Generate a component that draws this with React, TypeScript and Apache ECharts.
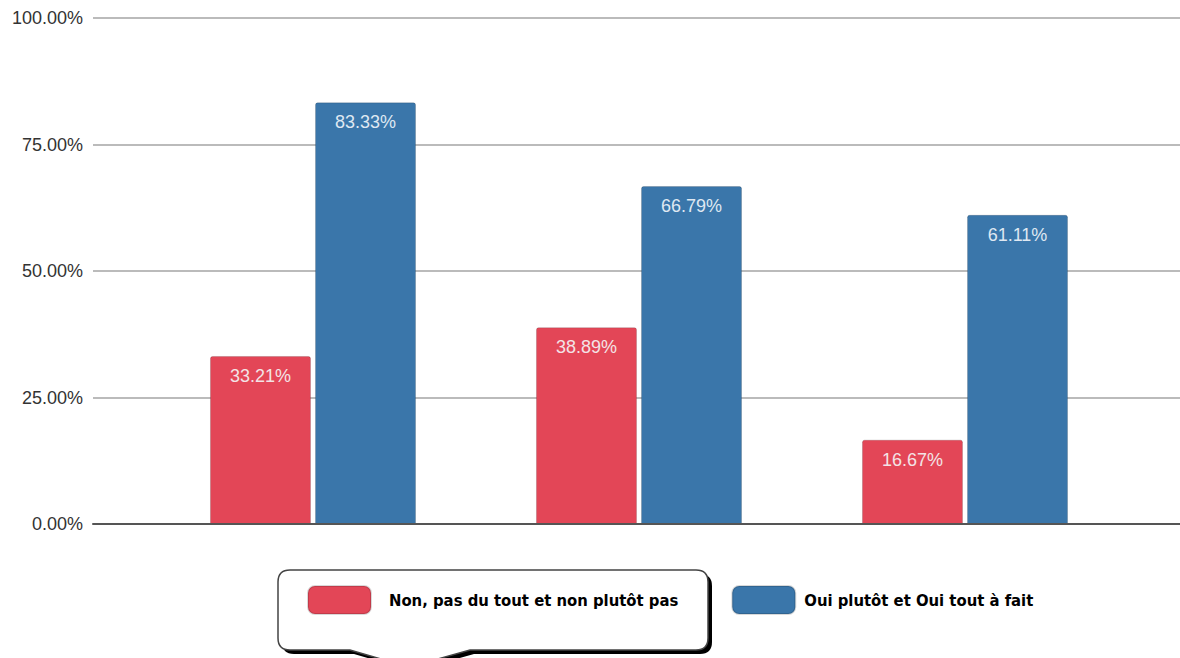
import React, { useEffect, useRef } from "react";
import * as echarts from "echarts";

const categories = ["Groupe 1", "Groupe 2", "Groupe 3"];
const seriesNames = ["Non, pas du tout et non plutôt pas", "Oui plutôt et Oui tout à fait"];
const nonValues = [0.3321, 0.3889, 0.1667];
const ouiValues = [0.8333, 0.6679, 0.6111];
const seriesColors = ["#e34657", "#3a76aa"];

const bubblePath =
  "M290 570 L696 570 Q708 570 708 582 L708 638 Q708 650 696 650 L470 650 L420 664 L398 664 L350 650 L290 650 Q278 650 278 638 L278 582 Q278 570 290 570 Z";

let registered = false;
function ensureShape() {
  if (registered) return;
  echarts.graphic.registerShape("bubble", echarts.graphic.extendPath(bubblePath, {}) as any);
  registered = true;
}

export default function App() {
  const ref = useRef<HTMLDivElement>(null);
  useEffect(() => {
    if (!ref.current) return;
    ensureShape();
    const chart = echarts.init(ref.current, undefined, { renderer: "svg" });
    const pct = (v: number) => (v * 100).toFixed(2) + "%";
    const labelFont = "'Liberation Sans', Arial, sans-serif";
    chart.setOption({
      animation: false,
      backgroundColor: "#ffffff",
      grid: [
        { left: 93, right: 0, top: 18, bottom: 134 },
        { left: 150, right: 52, top: 18, bottom: 134 },
      ],
      xAxis: [
        {
          gridIndex: 0,
          type: "category",
          data: [""],
          axisLine: { show: true, lineStyle: { color: "#555555", width: 2 } },
          axisTick: { show: false },
          axisLabel: { show: false },
          z: 5,
        },
        {
          gridIndex: 1,
          type: "category",
          data: categories,
          axisLine: { show: false },
          axisTick: { show: false },
          axisLabel: { show: false },
        },
      ],
      yAxis: [
        {
          gridIndex: 0,
          type: "value",
          min: 0,
          max: 1,
          interval: 0.25,
          axisLine: { show: false },
          axisTick: { show: false },
          axisLabel: {
            formatter: (v: number) => pct(v),
            color: "#333333",
            fontSize: 18,
            fontFamily: labelFont,
            margin: 10,
          },
          splitLine: { show: true, lineStyle: { color: "#bbbbbb", width: 2 } },
        },
        {
          gridIndex: 1,
          type: "value",
          min: 0,
          max: 1,
          interval: 0.25,
          show: false,
          splitLine: { show: false },
        },
      ],
      legend: {
        left: 307,
        top: 585,
        padding: 0,
        itemWidth: 63,
        itemHeight: 28,
        itemGap: 53,
        icon: "roundRect",
        data: [
          { name: seriesNames[0], textStyle: { padding: [0, 0, 0, 13] } },
          { name: seriesNames[1], textStyle: { padding: [0, 0, 0, 4] } },
        ],
        textStyle: {
          fontFamily: "'DejaVu Sans Condensed', 'DejaVu Sans', sans-serif",
          fontWeight: "bold",
          fontSize: 16.5,
          color: "#000000",
        },
        z: 10,
      },
      graphic: [
        {
          type: "bubble",
          x: 4,
          y: 4,
          z: 1,
          style: { fill: "#000000" },
        },
        {
          type: "bubble",
          x: 0,
          y: 0,
          z: 2,
          style: { fill: "#ffffff", stroke: "#444444", lineWidth: 1.5 },
        },
      ],
      series: [
        {
          name: seriesNames[0],
          type: "bar",
          xAxisIndex: 1,
          yAxisIndex: 1,
          data: nonValues,
          barWidth: 101,
          barGap: "4%",
          itemStyle: { color: seriesColors[0], borderRadius: [2, 2, 0, 0], borderColor: "rgba(0,0,0,0.15)", borderWidth: 1 },
          label: {
            show: true,
            position: "insideTop",
            distance: 11,
            formatter: (p: any) => pct(p.value),
            color: "#f3e3e6",
            fontSize: 18,
            fontFamily: labelFont,
          },
          z: 3,
        },
        {
          name: seriesNames[1],
          type: "bar",
          xAxisIndex: 1,
          yAxisIndex: 1,
          data: ouiValues,
          barWidth: 101,
          barGap: "4%",
          itemStyle: { color: seriesColors[1], borderRadius: [2, 2, 0, 0], borderColor: "rgba(0,0,0,0.15)", borderWidth: 1 },
          label: {
            show: true,
            position: "insideTop",
            distance: 11,
            formatter: (p: any) => pct(p.value),
            color: "#dfe8f2",
            fontSize: 18,
            fontFamily: labelFont,
          },
          z: 3,
        },
      ],
    });
    return () => chart.dispose();
  }, []);
  return (
    <div
      ref={ref}
      style={{ position: "absolute", left: 0, top: 0, width: 1180, height: 658 }}
    />
  );
}
